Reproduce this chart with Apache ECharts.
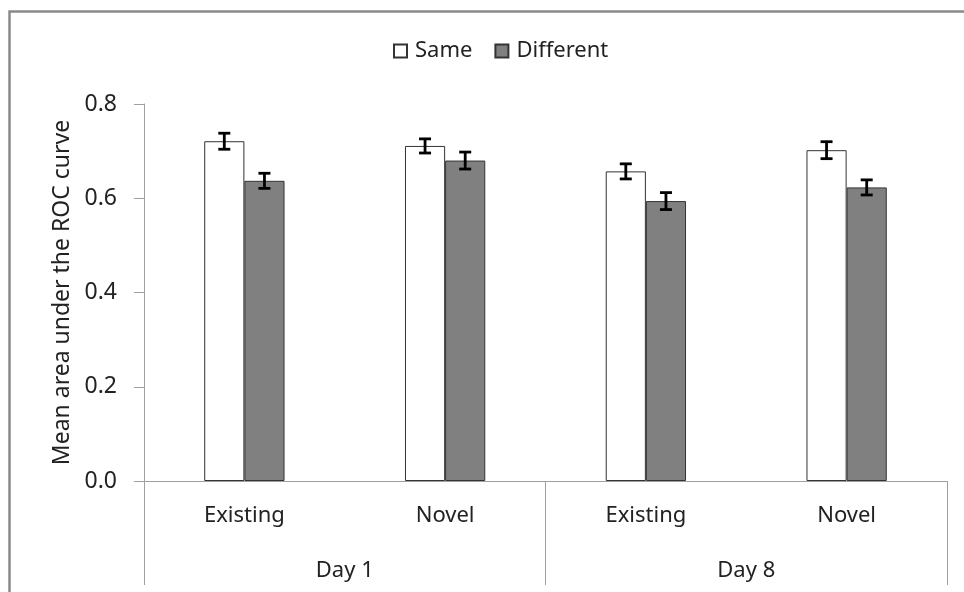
<!DOCTYPE html>
<html>
<head>
<meta charset="utf-8">
<script src="https://cdn.jsdelivr.net/npm/echarts@6/dist/echarts.min.js"></script>
<style>html,body{margin:0;padding:0;background:#fff;}#c{width:964px;height:592px;}</style>
</head>
<body>
<div id="c"></div>
<script>
const categories = ['Existing', 'Novel', 'Existing', 'Novel'];
const groups = ['Day 1', 'Day 8'];
const seriesNames = ['Same', 'Different'];
const sameValues = [0.721, 0.711, 0.657, 0.702];
const diffValues = [0.637, 0.680, 0.594, 0.623];
const sameErr = [0.017, 0.015, 0.016, 0.018];
const diffErr = [0.016, 0.018, 0.018, 0.016];
const yTicks = [0.0, 0.2, 0.4, 0.6, 0.8];
const yTitle = 'Mean area under the ROC curve';

const FONT = 'Noto Sans';
const FS = 22;
const chart = echarts.init(document.getElementById('c'), null, {renderer: 'canvas'});

function errSeries(name, vals, errs, sign) {
  return {
    type: 'custom',
    name: name + ' err',
    xAxisIndex: 0, yAxisIndex: 0,
    z: 10,
    data: vals.map((v, i) => [i, v, errs[i]]),
    renderItem: function (params, api) {
      const i = api.value(0), v = api.value(1), e = api.value(2);
      const band = api.size([1, 0])[0];
      const c = api.coord([i, v]);
      const x = c[0] + sign * band * 0.1;
      const top = api.coord([i, v + e])[1];
      const bot = api.coord([i, v - e])[1];
      const hw = 6;
      const st = {stroke: '#000', lineWidth: 2.8, fill: null};
      return {type: 'group', children: [
        {type: 'line', shape: {x1: x, y1: top, x2: x, y2: bot}, style: st},
        {type: 'line', shape: {x1: x - hw, y1: top, x2: x + hw, y2: top}, style: st},
        {type: 'line', shape: {x1: x - hw, y1: bot, x2: x + hw, y2: bot}, style: st}
      ]};
    }
  };
}

chart.setOption({
  animation: false,
  backgroundColor: '#fff',
  textStyle: {fontFamily: FONT},
  graphic: [{
    type: 'rect', left: 7, top: 9, z: 100,
    shape: {x: 0, y: 0, width: 980, height: 620},
    style: {fill: null, stroke: '#8a8a8a', lineWidth: 2.5}
  }],
  legend: {
    data: seriesNames,
    top: 35, left: 388,
    itemWidth: 13, itemHeight: 13, itemGap: 22,
    icon: 'rect',
    textStyle: {fontFamily: FONT, fontSize: FS, color: '#222', padding: [0, 0, 0, 3]}
  },
  grid: {left: 144, right: 17, top: 104, bottom: 111, containLabel: false},
  xAxis: [{
    type: 'category', data: categories, position: 'bottom',
    axisLine: {show: true, lineStyle: {color: '#a0a0a0', width: 1}},
    axisTick: {show: false},
    axisLabel: {margin: 24, fontFamily: FONT, fontSize: FS, color: '#222'}
  }, {
    type: 'category', data: groups, position: 'bottom', gridIndex: 0,
    axisLine: {show: false},
    axisTick: {show: true, length: 104, lineStyle: {color: '#a0a0a0', width: 1}},
    axisLabel: {margin: 79, fontFamily: FONT, fontSize: FS, color: '#222'}
  }],
  yAxis: {
    type: 'value', min: 0, max: 0.8, interval: 0.2,
    name: yTitle, nameLocation: 'middle', nameGap: 70, nameRotate: 90,
    nameTextStyle: {fontFamily: FONT, fontSize: 23, color: '#222'},
    axisLine: {show: true, lineStyle: {color: '#a0a0a0', width: 1}},
    axisTick: {show: true, length: 10, lineStyle: {color: '#a0a0a0'}},
    splitLine: {show: false},
    axisLabel: {margin: 27, fontFamily: FONT, fontSize: 23, color: '#222',
      formatter: v => yTicks.includes(Math.round(v * 10) / 10) ? v.toFixed(1) : ''}
  },
  series: [{
    type: 'bar', name: 'Same', data: sameValues,
    barGap: '0%', barCategoryGap: '60%',
    itemStyle: {color: '#ffffff', borderColor: '#333', borderWidth: 1}
  }, {
    type: 'bar', name: 'Different', data: diffValues,
    barGap: '0%', barCategoryGap: '60%',
    itemStyle: {color: '#808080', borderColor: '#333', borderWidth: 1}
  },
  errSeries('Same', sameValues, sameErr, -1),
  errSeries('Different', diffValues, diffErr, 1)]
});
</script>
</body>
</html>
